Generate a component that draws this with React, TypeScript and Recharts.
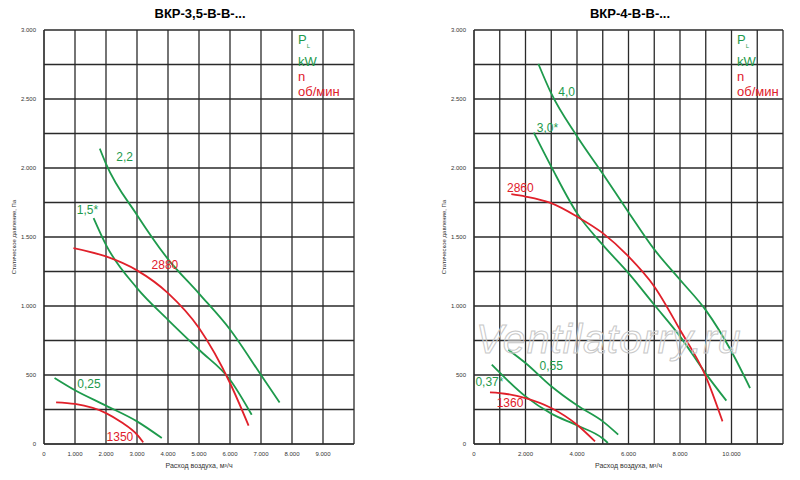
import React from "react";
import { LineChart, Line, XAxis, YAxis, CartesianGrid, ReferenceDot } from "recharts";

type P = { x: number; y: number };
const pts = (a: number[][]): P[] => a.map(([x, y]) => ({ x, y }));

// Left chart: ВКР-3,5-В-В-...
const leftP22 = pts([[1800,2140],[2000,2030],[3000,1660],[4000,1340],[5000,1090],[6000,830],[7000,500],[7600,300]]);
const leftP15 = pts([[1600,1637],[2000,1443],[3000,1130],[4000,900],[5000,683],[6000,466],[6700,212]]);
const left2880 = pts([[950,1420],[2000,1359],[3000,1258],[4000,1093],[5000,840],[6000,442],[6600,133]]);
const leftP025 = pts([[340,478],[1000,389],[2000,278],[3000,164],[3800,43]]);
const left1350 = pts([[390,302],[1000,290],[2000,224],[2500,157],[3000,68],[3200,12]]);

// Right chart: ВКР-4-В-В-...
const rightP40 = pts([[2500,2754],[3000,2540],[4000,2230],[5000,1958],[6000,1680],[7000,1410],[8000,1190],[9000,970],[10000,670],[10720,405]]);
const rightP30 = pts([[2320,2257],[3000,2010],[4000,1673],[5000,1443],[6000,1238],[7000,1009],[8000,780],[9000,510],[9800,314]]);
const right2860 = pts([[1450,1810],[2000,1793],[3000,1745],[4000,1648],[5000,1528],[6000,1359],[7000,1142],[8000,828],[9000,490],[9650,164]]);
const rightP055 = pts([[1330,683],[2000,587],[3000,418],[4000,280],[5000,164],[5600,68]]);
const rightP037 = pts([[690,575],[2000,345],[3000,220],[4000,135],[5000,40],[5200,7]]);
const right1360 = pts([[620,374],[1000,369],[2000,333],[3000,261],[4000,140],[4700,19]]);

const leftXTicks = [0,1000,2000,3000,4000,5000,6000,7000,8000,9000,10000];
const rightXTicks = [0,1000,2000,3000,4000,5000,6000,7000,8000,9000,10000,11000,12000];
const yTicks = [0,250,500,750,1000,1250,1500,1750,2000,2250,2500,2750,3000];

const GREEN = "#1e9a4c";
const RED = "#e0202a";
const FONT = "'Liberation Sans Narrow', 'Liberation Sans', Arial, sans-serif";

const fmt = (v: number) => (v < 1000 ? String(v) : `${Math.floor(v / 1000)}.${String(v % 1000).padStart(3, "0")}`);

type Series = { data: P[]; color: string };
type Lbl = { x: number; y: number; text: string; color: string };

function Chart(props: {
  left: number; right: number; xMax: number; xTicks: number[];
  xLabelFn: (v: number) => string; series: Series[]; labels: Lbl[];
}) {
  const W = 400, H = 480;
  return (
    <div style={{ position: "absolute", left: props.left, top: 0, width: W, height: H }}>
      <LineChart width={W} height={H} margin={{ top: 30, right: props.right, bottom: 0, left: 0 }}>
        <CartesianGrid stroke="#2a2a2a" strokeWidth={1.3} />
        <XAxis type="number" dataKey="x" domain={[0, props.xMax]} ticks={props.xTicks}
          tickFormatter={props.xLabelFn} axisLine={{ stroke: "#2a2a2a" }} tickLine={false}
          tick={{ fontSize: 6, fill: "#333", fontFamily: FONT }} interval={0} height={36}
          label={{ value: "Расход воздуха, м³/ч", position: "insideBottom", offset: 12, fontSize: 7, fill: "#333", fontFamily: FONT }} />
        <YAxis type="number" domain={[0, 3000]} ticks={yTicks} interval={0}
          tickFormatter={(v: number) => (v % 500 === 0 ? fmt(v) : "")}
          axisLine={{ stroke: "#2a2a2a" }} tickLine={false} width={44}
          tick={{ fontSize: 6, fill: "#333", fontFamily: FONT }}
          label={{ value: "Статическое давление, Па", angle: -90, position: "insideLeft", offset: 14, fontSize: 6, fill: "#333", fontFamily: FONT, style: { textAnchor: "middle" } }} />
        {props.series.map((s, i) => (
          <Line key={i} data={s.data} dataKey="y" type="monotone" stroke={s.color}
            strokeWidth={1.8} dot={false} isAnimationActive={false} />
        ))}
        {props.labels.map((l, i) => (
          <ReferenceDot key={i} x={l.x} y={l.y} r={0} stroke="none" fill="none" ifOverflow="visible"
            label={{ value: l.text, fill: l.color, fontSize: 12, fontFamily: FONT, position: "center" }} />
        ))}
      </LineChart>
    </div>
  );
}

const legend = (x: number) => (
  <div style={{ position: "absolute", left: x, top: 32, fontFamily: FONT, fontSize: 13, lineHeight: "15px" }}>
    <div style={{ color: GREEN }}>P<sub style={{ fontSize: 6 }}>L</sub></div>
    <div style={{ color: GREEN }}>kW</div>
    <div style={{ color: RED }}>n</div>
    <div style={{ color: RED }}>об/мин</div>
  </div>
);

export default function App() {
  return (
    <div style={{ position: "absolute", left: 0, top: 0, width: 800, height: 480, background: "#fff", fontFamily: FONT }}>
      <Chart left={0} right={46} xMax={10000} xTicks={leftXTicks}
        xLabelFn={(v) => (v === 10000 ? "" : fmt(v))}
        series={[
          { data: leftP22, color: GREEN }, { data: leftP15, color: GREEN }, { data: left2880, color: RED },
          { data: leftP025, color: GREEN }, { data: left1350, color: RED },
        ]}
        labels={[
          { x: 2600, y: 2080, text: "2,2", color: GREEN }, { x: 1400, y: 1700, text: "1,5*", color: GREEN },
          { x: 3900, y: 1300, text: "2880", color: RED }, { x: 1450, y: 440, text: "0,25", color: GREEN },
          { x: 2450, y: 50, text: "1350", color: RED },
        ]} />
      <Chart left={430} right={47} xMax={12000} xTicks={rightXTicks}
        xLabelFn={(v) => (v % 2000 === 0 && v <= 10000 ? fmt(v) : "")}
        series={[
          { data: rightP40, color: GREEN }, { data: rightP30, color: GREEN }, { data: right2860, color: RED },
          { data: rightP055, color: GREEN }, { data: rightP037, color: GREEN }, { data: right1360, color: RED },
        ]}
        labels={[
          { x: 3600, y: 2550, text: "4,0", color: GREEN }, { x: 2850, y: 2290, text: "3,0*", color: GREEN },
          { x: 1800, y: 1860, text: "2860", color: RED }, { x: 3000, y: 570, text: "0,55", color: GREEN },
          { x: 600, y: 450, text: "0,37*", color: GREEN }, { x: 1400, y: 300, text: "1360", color: RED },
        ]} />
      <div style={{ position: "absolute", left: 0, width: 400, top: 6, textAlign: "center", fontWeight: "bold", fontSize: 13, fontFamily: "'Liberation Sans', Arial, sans-serif" }}>
        ВКР-3,5-В-В-...
      </div>
      <div style={{ position: "absolute", left: 430, width: 400, top: 6, textAlign: "center", fontWeight: "bold", fontSize: 13, fontFamily: "'Liberation Sans', Arial, sans-serif" }}>
        ВКР-4-В-В-...
      </div>
      {legend(298)}
      {legend(737)}
      <div style={{ position: "absolute", left: 476, top: 316, fontSize: 41, fontStyle: "italic", fontFamily: "'Liberation Sans', Arial, sans-serif", color: "rgba(255,255,255,0.2)", WebkitTextStroke: "1px #c8c8c8", pointerEvents: "none", letterSpacing: 1 }}>
        Ventilatorry.ru
      </div>
    </div>
  );
}
